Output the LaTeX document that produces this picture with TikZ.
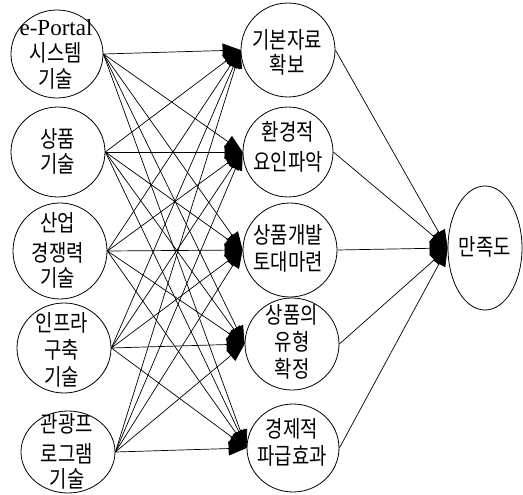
\documentclass[tikz,border=0pt]{standalone}
\usepackage{fontspec}
\setmainfont{Liberation Serif}
\newfontfamily\kr[FakeStretch=0.82]{Noto Sans CJK KR}
\usetikzlibrary{shapes.geometric,arrows.meta}

\begin{document}
\begin{tikzpicture}[x=1pt,y=-1pt,
  oval/.style={draw,ellipse,line width=0.8pt,inner sep=0pt},
  lbl/.style={align=center,inner sep=0pt,font=\kr\fontsize{23}{27}\selectfont},
  link/.style={line width=0.7pt,-{Triangle[length=18pt,width=14pt]}}]
\useasboundingbox (0,0) rectangle (523,495);

% technology factors (left column)
\node[oval,minimum width=92pt,minimum height=88pt] (L1) at (57,54) {};
\node[oval,minimum width=94pt,minimum height=90pt] (L2) at (58,152) {};
\node[oval,minimum width=94pt,minimum height=96pt] (L3) at (60,251) {};
\node[oval,minimum width=94pt,minimum height=90pt] (L4) at (64,348) {};
\node[oval,minimum width=94pt,minimum height=82pt] (L5) at (68,452) {};

% outcome factors (middle column)
\node[oval,minimum width=94pt,minimum height=94pt] (M1) at (288,50) {};
\node[oval,minimum width=90pt,minimum height=90pt] (M2) at (288,152) {};
\node[oval,minimum width=94pt,minimum height=94pt] (M3) at (290,250) {};
\node[oval,minimum width=94pt,minimum height=92pt] (M4) at (292,344) {};
\node[oval,minimum width=92pt,minimum height=88pt] (M5) at (293,448) {};

% satisfaction
\node[oval,minimum width=74pt,minimum height=124pt] (R) at (485,248) {};

% labels
\node[lbl] (t1) at (56,54) {{\rmfamily\fontsize{23}{27}\selectfont e-Portal}\\[-1pt]시스템\\[-1pt]기술};
\node[lbl] (t2) at (58,151) {상품\\[-2pt]기술};
\node[lbl] (t3) at (58,250) {산업\\[3pt]경쟁력\\[-2pt]기술};
\node[lbl] (t4) at (62,350) {인프라\\구축\\기술};
\node[lbl] (t5) at (67,451) {관광프\\[3pt]로그램\\[-2pt]기술};

\node[lbl] (u1) at (287,52) {기본자료\\[-2pt]확보};
\node[lbl] (u2) at (288,147) {환경적\\[3pt]요인파악};
\node[lbl] (u3) at (288,248) {상품개발\\토대마련};
\node[lbl] (u4) at (292,342) {상품의\\유형\\확정};
\node[lbl] (u5) at (292,442) {경제적\\파급효과};
\node[lbl] (v1) at (485,247) {만족도};

% every technology factor feeds every outcome factor
\foreach \i in {1,...,5}{
  \foreach \j in {1,...,5}{
    \draw[link] (L\i.east) -- (M\j.west);
  }
}
% every outcome factor feeds satisfaction
\foreach \j in {1,...,5}{
  \draw[link] (M\j.east) -- (R.west);
}
\end{tikzpicture}
\end{document}
